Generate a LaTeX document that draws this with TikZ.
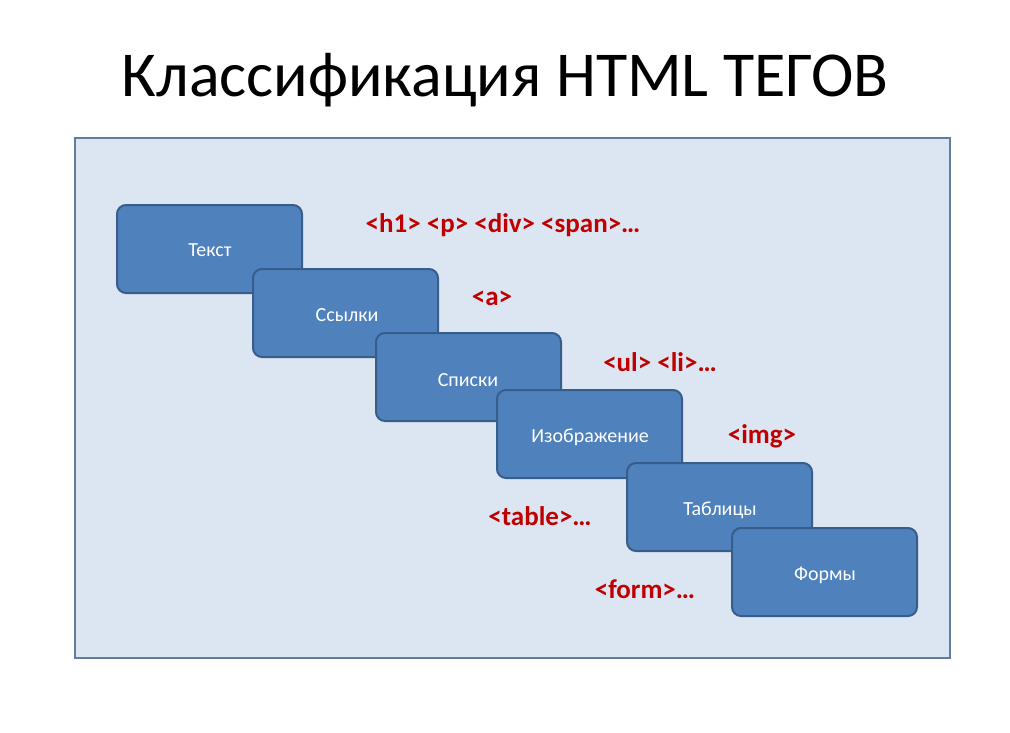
\documentclass[tikz,border=0pt]{standalone}
\usepackage{fontspec}
\setmainfont{Carlito}
\definecolor{boxfill}{HTML}{4F81BD}
\definecolor{boxline}{HTML}{385D8A}
\definecolor{panel}{HTML}{DCE6F2}
\definecolor{tagred}{HTML}{C00000}
\begin{document}
\begin{tikzpicture}[x=1pt,y=-1pt,
  cat/.style={draw=boxline,line width=2pt,fill=boxfill,rounded corners=9pt},
  cattext/.style={text=white,font=\fontsize{20}{24}\selectfont},
  tag/.style={text=tagred,font=\bfseries\fontsize{27}{32}\selectfont}]
\useasboundingbox (0,0) rectangle (1010,732);
\node[font=\fontsize{64}{70}\selectfont] (title) at (505,80) {Классификация HTML ТЕГОВ};
\draw[draw=boxline!80,fill=panel,line width=2pt] (75,138) rectangle (950,658);
\coordinate (p) at (0,0);
\foreach \n/\xa/\ya/\t/\tx/\ty in {b1/117/205/Текст/210/250, b2/253/269/Ссылки/347/315, b3/376/333/Списки/468/380, b4/497/390/Изображение/590/437, b5/627/463/Таблицы/720/510, b6/732/528/Формы/825/575}{
  \draw[cat] (\xa,\ya) rectangle ++(185,88);
  \node[cattext] (\n) at (\tx,\ty) {\t};
}
\node[tag] (t1) at (503,225) {<h1> <p> <div> <span>…};
\node[tag] (t2) at (492,298) {<a>};
\node[tag] (t3) at (660,362) {<ul> <li>…};
\node[tag] (t4) at (762,436) {<img>};
\node[tag] (t5) at (540,516) {<table>…};
\node[tag] (t6) at (645,589) {<form>…};
\end{tikzpicture}
\end{document}
